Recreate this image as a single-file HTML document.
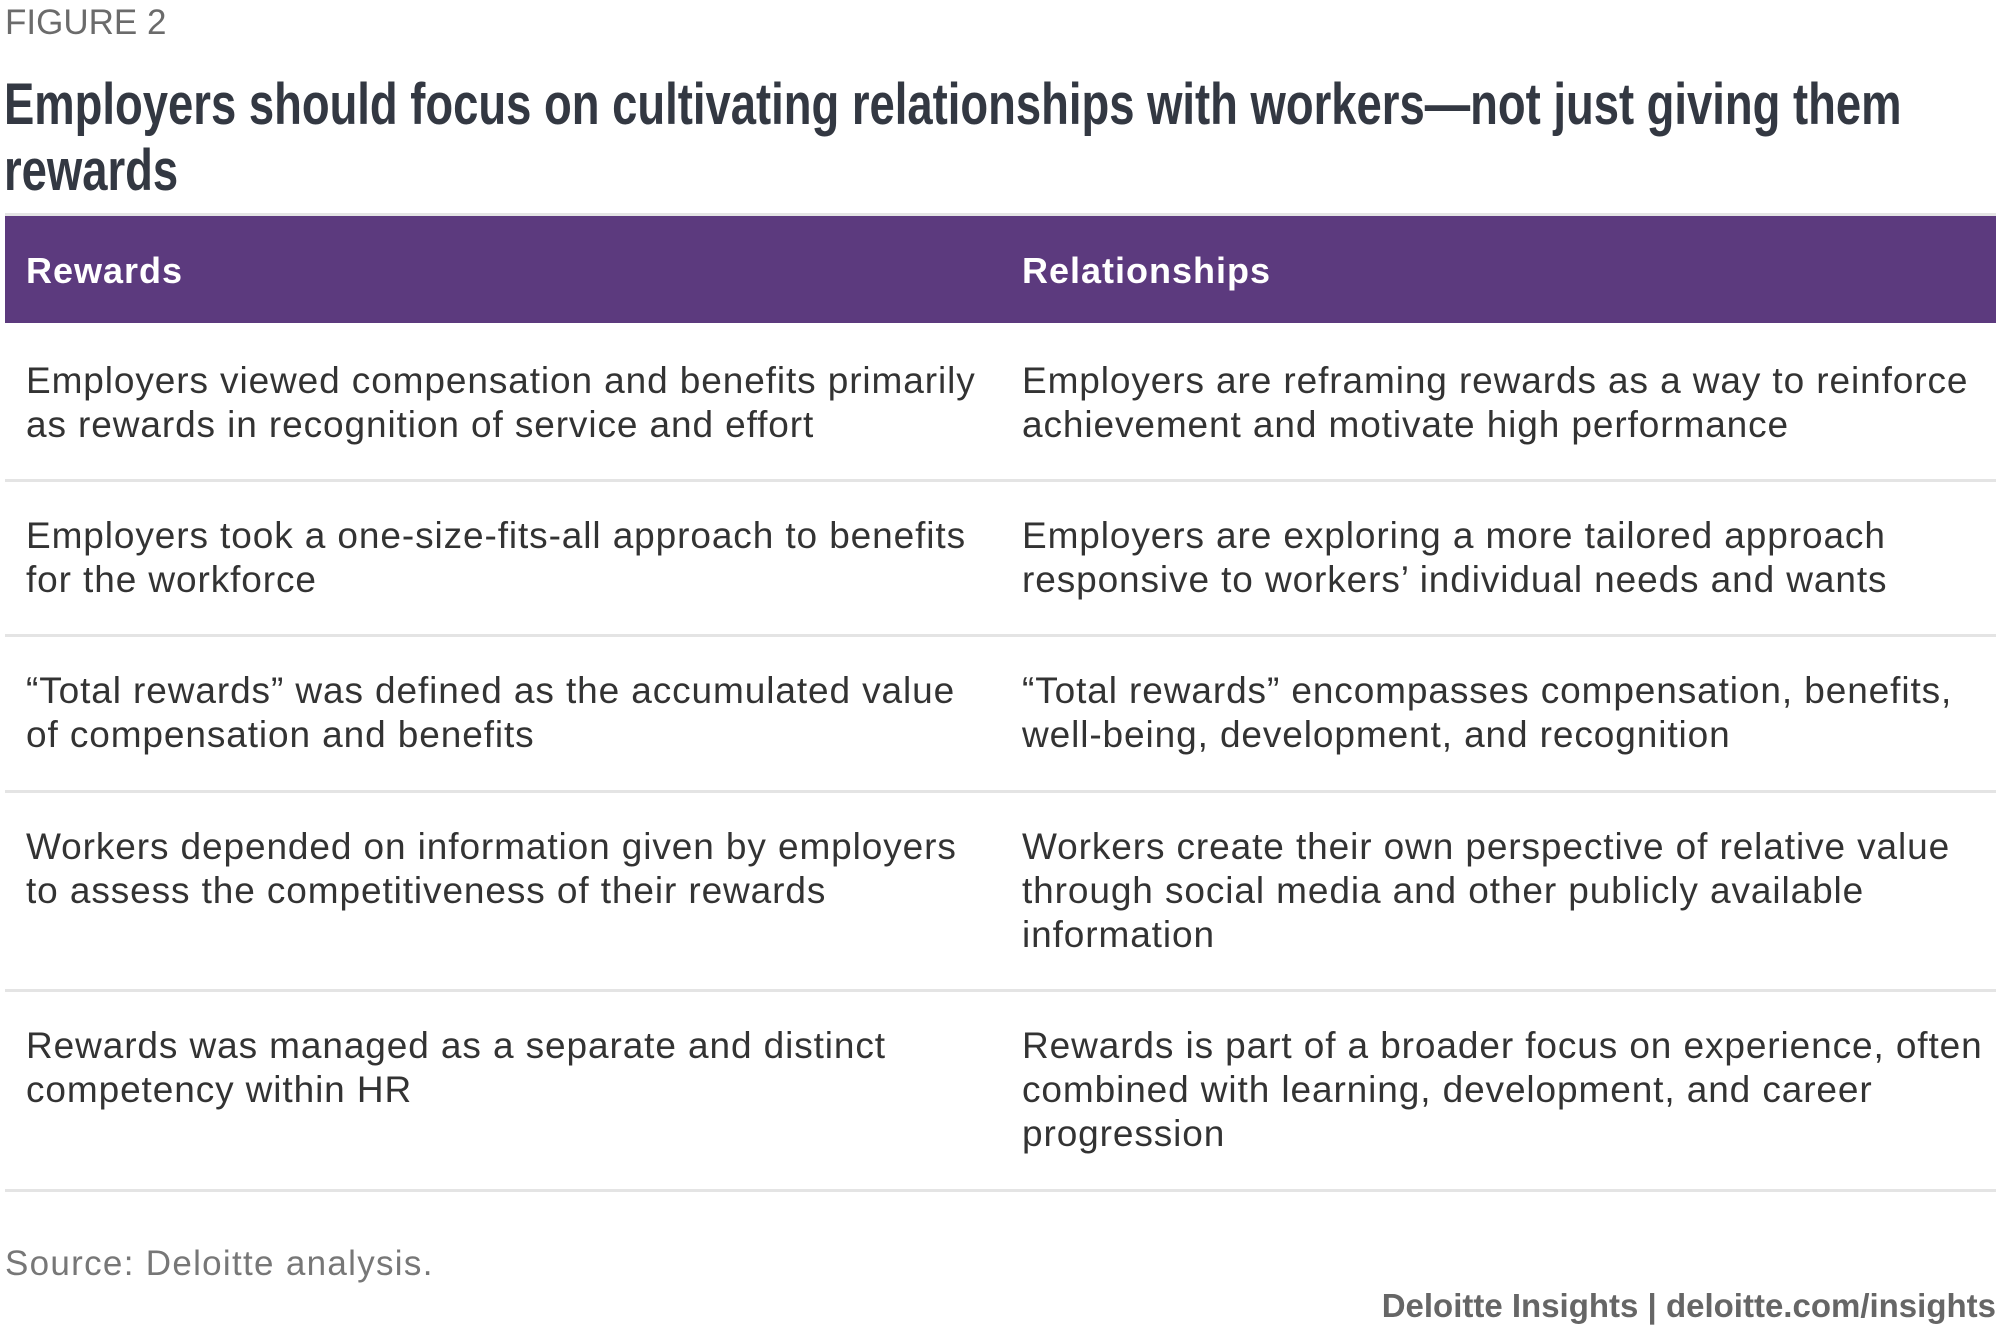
<!DOCTYPE html>
<html><head><meta charset="utf-8"><style>
body{margin:0;width:2000px;height:1336px;background:#fff;position:relative;overflow:hidden;font-family:"Liberation Sans",sans-serif;}
.a{position:absolute;white-space:nowrap;}
.fig{left:5px;top:3px;font-size:35px;color:#6b6b6b;}
.title{left:4px;top:72px;font-weight:bold;font-size:58px;line-height:66px;color:#333842;transform:scaleX(0.783);transform-origin:0 0;}
.hdr{left:5px;top:213px;width:1991px;height:110px;background:#5c3a7e;border-top:3px solid #e4e4e4;box-sizing:border-box;}
.ht{top:250px;font-size:36px;font-weight:bold;color:#fff;letter-spacing:1px;}
.cell{font-size:37px;line-height:44px;color:#333;letter-spacing:0.9px;}
.sep{position:absolute;height:3px;background:#e4e4e4;}
.src{left:5px;top:1244px;font-size:35px;color:#777;letter-spacing:1.3px;}
.ft{right:4px;top:1287px;font-size:33px;font-weight:bold;color:#666;}
</style></head><body>
<div class="a fig">FIGURE 2</div>
<div class="a title">Employers should focus on cultivating relationships with workers—not just giving them<br>rewards</div>
<div class="a hdr"></div>
<div class="a ht" style="left:26px">Rewards</div>
<div class="a ht" style="left:1022px">Relationships</div>

<div class="a cell" style="left:26px;top:359px">Employers viewed compensation and benefits primarily<br>as rewards in recognition of service and effort</div>
<div class="a cell" style="left:1022px;top:359px">Employers are reframing rewards as a way to reinforce<br>achievement and motivate high performance</div>
<div class="sep" style="left:5px;top:479px;width:1991px"></div>

<div class="a cell" style="left:26px;top:514px">Employers took a one-size-fits-all approach to benefits<br>for the workforce</div>
<div class="a cell" style="left:1022px;top:514px">Employers are exploring a more tailored approach<br>responsive to workers’ individual needs and wants</div>
<div class="sep" style="left:5px;top:634px;width:1991px"></div>

<div class="a cell" style="left:26px;top:669px">“Total rewards” was defined as the accumulated value<br>of compensation and benefits</div>
<div class="a cell" style="left:1022px;top:669px">“Total rewards” encompasses compensation, benefits,<br>well-being, development, and recognition</div>
<div class="sep" style="left:5px;top:790px;width:1991px"></div>

<div class="a cell" style="left:26px;top:825px">Workers depended on information given by employers<br>to assess the competitiveness of their rewards</div>
<div class="a cell" style="left:1022px;top:825px">Workers create their own perspective of relative value<br>through social media and other publicly available<br>information</div>
<div class="sep" style="left:5px;top:989px;width:1991px"></div>

<div class="a cell" style="left:26px;top:1024px">Rewards was managed as a separate and distinct<br>competency within HR</div>
<div class="a cell" style="left:1022px;top:1024px">Rewards is part of a broader focus on experience, often<br>combined with learning, development, and career<br>progression</div>
<div class="sep" style="left:5px;top:1189px;width:1991px"></div>

<div class="a src">Source: Deloitte analysis.</div>
<div class="a ft">Deloitte Insights | deloitte.com/insights</div>
</body></html>
